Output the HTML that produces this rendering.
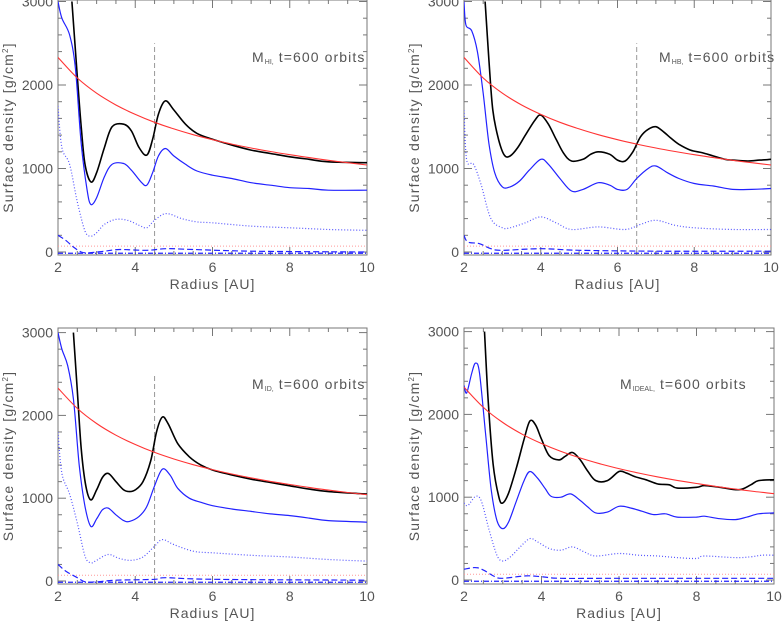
<!DOCTYPE html>
<html><head><meta charset="utf-8"><style>
html,body{margin:0;padding:0;background:#fff;}
svg text{font-family:"Liberation Sans",sans-serif;fill:#555;}
</style></head><body>
<svg id="c" width="782" height="621" viewBox="0 0 782 621" xmlns="http://www.w3.org/2000/svg"></svg>
<script>
// ---- data ----
const redR=[2,2.5,3,3.5,4,4.5,5,5.5,6,6.5,7,7.5,8,8.5,9,9.5,10];
const redV=[2330,2084,1902,1761,1648,1553,1474,1405,1345,1292,1245,1203,1165,1130,1098,1069,1042];
const p1Black=[[2.36,3000],[2.5,2100],[2.6,1500],[2.7,1050],[2.85,840],[3.0,950],[3.2,1250],[3.4,1500],[3.7,1530],[3.9,1450],[4.1,1250],[4.3,1160],[4.45,1350],[4.6,1650],[4.78,1810],[5.0,1700],[5.3,1530],[5.6,1420],[6,1350],[6.5,1280],[7,1220],[7.5,1180],[8,1140],[8.5,1110],[9,1080],[10,1070]];
const p1Blue=[[2,3000],[2.1,2800],[2.3,2600],[2.45,2200],[2.6,1300],[2.75,750],[2.85,570],[3.0,650],[3.2,900],[3.4,1050],[3.7,1060],[3.9,980],[4.15,840],[4.3,800],[4.45,950],[4.6,1150],[4.78,1240],[5,1150],[5.3,1050],[5.6,970],[6,920],[6.5,880],[7,830],[7.5,800],[8,770],[8.5,760],[9,740],[10,740]];
const p1Dot=[[2,1750],[2.1,1250],[2.3,1050],[2.5,600],[2.7,250],[2.85,190],[3.0,230],[3.2,330],[3.5,390],[3.8,380],[4.1,320],[4.3,290],[4.5,380],[4.8,460],[5.2,400],[5.6,360],[6,350],[7,310],[8,290],[9,270],[10,260]];
const p1Dash=[[2,200],[2.2,140],[2.4,60],[2.6,0],[2.8,-10],[3.2,10],[3.6,30],[4.3,20],[4.8,40],[5.5,30],[7,10],[10,0]];
const p2Black=[[2.55,3000],[2.65,2300],[2.75,1700],[2.9,1350],[3.05,1160],[3.2,1150],[3.4,1250],[3.6,1400],[3.85,1580],[4.0,1640],[4.2,1530],[4.4,1350],[4.6,1180],[4.8,1090],[5.1,1110],[5.3,1170],[5.5,1200],[5.8,1170],[6.0,1100],[6.2,1090],[6.4,1200],[6.6,1380],[6.8,1470],[7.0,1500],[7.2,1440],[7.4,1360],[7.6,1290],[7.9,1220],[8.2,1190],[8.5,1150],[8.8,1110],[9.0,1100],[9.4,1090],[9.7,1100],[10,1110]];
const p2Blue=[[2,3000],[2.05,2720],[2.2,2650],[2.35,2400],[2.5,1900],[2.65,1300],[2.8,950],[3.0,780],[3.2,780],[3.45,850],[3.7,980],[4.0,1110],[4.2,1050],[4.5,880],[4.8,730],[5.1,750],[5.5,830],[5.8,800],[6.0,750],[6.25,750],[6.5,880],[6.8,1000],[7.0,1030],[7.3,950],[7.6,880],[8,820],[8.5,790],[9,750],[9.5,750],[10,760]];
const p2Dot=[[2,1700],[2.07,1100],[2.25,1050],[2.45,800],[2.7,400],[3.0,290],[3.2,290],[3.6,350],[4.0,420],[4.4,350],[4.8,270],[5.5,300],[6.2,270],[6.6,330],[7.0,380],[7.5,320],[8,290],[9,270],[10,270]];
const p2Dash=[[2,200],[2.1,120],[2.4,100],[2.7,40],[3.0,20],[4,40],[5,20],[7,10],[10,10]];
const p3Black=[[2.4,3000],[2.5,2300],[2.6,1600],[2.72,1150],[2.85,980],[3.0,1100],[3.15,1250],[3.3,1300],[3.5,1200],[3.7,1100],[3.85,1080],[4.0,1100],[4.2,1200],[4.4,1450],[4.55,1800],[4.7,1980],[4.85,1900],[5.1,1660],[5.4,1500],[5.7,1400],[6.0,1340],[6.5,1280],[7,1230],[7.5,1190],[8,1150],[8.5,1110],[9,1080],[10,1050]];
const p3Blue=[[2,3000],[2.1,2800],[2.25,2600],[2.4,2200],[2.55,1400],[2.7,900],[2.85,660],[3.0,750],[3.15,860],[3.3,880],[3.5,800],[3.7,730],[3.85,720],[4.1,780],[4.3,900],[4.5,1150],[4.7,1350],[4.9,1280],[5.1,1120],[5.4,1000],[5.7,950],[6.0,910],[6.5,870],[7,840],[7.5,810],[8,790],[8.5,760],[9,730],[10,710]];
const p3Dot=[[2,1800],[2.1,1300],[2.3,1050],[2.5,700],[2.7,300],[2.85,220],[3.0,250],[3.3,320],[3.6,270],[3.9,250],[4.2,290],[4.5,420],[4.7,500],[5.0,440],[5.5,360],[6,340],[7,310],[8,290],[9,260],[10,240]];
const p3Dash=[[2,200],[2.2,120],[2.5,40],[2.7,-10],[3,-10],[3.5,10],[4.5,20],[4.8,40],[6,20],[10,10]];
const p4Black=[[2.53,3000],[2.62,2200],[2.75,1400],[2.9,1000],[3.0,930],[3.15,1050],[3.35,1350],[3.55,1700],[3.7,1920],[3.85,1870],[4.0,1700],[4.2,1500],[4.45,1450],[4.6,1490],[4.8,1540],[5.0,1450],[5.2,1310],[5.4,1200],[5.7,1200],[6.0,1310],[6.2,1290],[6.4,1250],[6.7,1210],[7,1160],[7.3,1150],[7.5,1110],[8.0,1120],[8.2,1140],[8.6,1120],[9.1,1090],[9.4,1150],[9.6,1200],[10,1210]];
const p4Blue=[[2,2350],[2.07,2260],[2.2,2500],[2.3,2620],[2.4,2500],[2.55,1800],[2.7,1100],[2.85,720],[3.0,620],[3.15,700],[3.35,950],[3.55,1200],[3.7,1310],[3.9,1230],[4.1,1100],[4.25,1010],[4.5,1000],[4.75,1040],[5.0,960],[5.2,880],[5.4,810],[5.7,820],[6.0,890],[6.3,870],[6.6,830],[6.9,790],[7.2,800],[7.5,760],[8,760],[8.2,770],[8.6,740],[9,730],[9.3,760],[9.6,800],[10,810]];
const p4Dot=[[2,930],[2.1,900],[2.3,1010],[2.45,950],[2.65,600],[2.85,300],[3.0,230],[3.2,280],[3.45,400],[3.7,500],[3.9,460],[4.2,380],[4.5,360],[4.8,400],[5.1,340],[5.4,290],[6,320],[6.5,300],[7,290],[7.5,270],[8,260],[8.2,290],[9,270],[9.4,280],[9.7,300],[10,300]];
const p4Dash=[[2,130],[2.3,150],[2.5,120],[2.8,40],[3.0,20],[3.6,50],[4,40],[4.5,20],[6,20],[10,20]];
const xTicks=[2,4,6,8,10];
const yTicks=[0,1000,2000,3000];
const floorLevel=70, dashDotLevel=-15;
const panels=[
 {id:'m-hi',sub:'HI',x0:58,x1:367,top:0,bot:255,y0:252,sc:0.0835,planet:4.5,lx:252,ly:62,data:[p1Black,p1Blue,p1Dot,p1Dash]},
 {id:'m-hb',sub:'HB',x0:464,x1:771,top:0,bot:255,y0:252,sc:0.0835,planet:6.5,lx:659,ly:62,data:[p2Black,p2Blue,p2Dot,p2Dash]},
 {id:'m-id',sub:'ID',x0:58,x1:367,top:328,bot:584,y0:581,sc:0.0828,planet:4.5,lx:252,ly:389,data:[p3Black,p3Blue,p3Dot,p3Dash]},
 {id:'m-ideal',sub:'IDEAL',x0:464,x1:774,top:328,bot:584,y0:580,sc:0.0828,planet:null,lx:620,ly:389,data:[p4Black,p4Blue,p4Dot,p4Dash]}
];
const NS='http://www.w3.org/2000/svg';
const svg=document.getElementById('c');
function mk(t,a,p){const e=document.createElementNS(NS,t);for(const k in a)e.setAttribute(k,a[k]);(p||svg).appendChild(e);return e;}
function smooth(pts){let d='M'+pts[0][0].toFixed(1)+','+pts[0][1].toFixed(1);
 for(let i=0;i<pts.length-1;i++){const p0=pts[Math.max(0,i-1)],p1=pts[i],p2=pts[i+1],p3=pts[Math.min(pts.length-1,i+2)];
  const c1=[p1[0]+(p2[0]-p0[0])/6,p1[1]+(p2[1]-p0[1])/6],c2=[p2[0]-(p3[0]-p1[0])/6,p2[1]-(p3[1]-p1[1])/6];
  d+='C'+c1.map(v=>v.toFixed(1))+' '+c2.map(v=>v.toFixed(1))+' '+p2[0].toFixed(1)+','+p2[1].toFixed(1);}
 return d;}
panels.forEach((P,pi)=>{
 const X=r=>P.x0+(r-2)*(P.x1-P.x0)/8, Y=v=>P.y0-v*P.sc;
 const g=mk('g',{});
 
 
 const cp=mk('clipPath',{id:'clip'+pi},g);mk('rect',{x:P.x0,y:P.top,width:P.x1-P.x0,height:P.bot-P.top},cp);
 for(let r=2;r<=10.001;r+=0.5){const maj=Math.abs(r-Math.round(r/2)*2)<1e-6;const L=maj?8:4;
  mk('line',{x1:X(r),x2:X(r),y1:P.bot,y2:P.bot-L,stroke:'#777','stroke-width':1},g);
  mk('line',{x1:X(r),x2:X(r),y1:P.top,y2:P.top+L,stroke:'#777','stroke-width':1},g);}
 for(let v=0;v<=3000;v+=200){const maj=v%1000===0;const L=maj?8:4;
  mk('line',{x1:P.x0,x2:P.x0+L,y1:Y(v),y2:Y(v),stroke:'#777'},g);
  mk('line',{x1:P.x1,x2:P.x1-L,y1:Y(v),y2:Y(v),stroke:'#777'},g);}
 mk('rect',{x:P.x0,y:P.top,width:P.x1-P.x0,height:P.bot-P.top,fill:'none',stroke:'#777','stroke-width':1},g);
 xTicks.forEach(t=>{const e=mk('text',{x:X(t),y:P.bot+17,'text-anchor':'middle','font-size':14},g);e.textContent=t;
  
  });
 yTicks.forEach(t=>{const e=mk('text',{x:P.x0-5,y:Y(t)+5,'text-anchor':'end','font-size':14},g);e.textContent=t;
  
  });
 const xt=mk('text',{x:(P.x0+P.x1)/2,y:P.bot+34,'text-anchor':'middle','font-size':14,'letter-spacing':'1'},g);xt.textContent='Radius [AU]';
 
 
 const yt=mk('text',{x:0,y:0,'text-anchor':'middle','font-size':14,'letter-spacing':'1.2',transform:`translate(${P.x0-45},${(P.top+P.bot)/2}) rotate(-90)`},g);
 yt.innerHTML='Surface density [g/cm<tspan font-size="8" dy="-5">2</tspan><tspan dy="5">]</tspan>';
 
 
 const lb=mk('text',{x:P.lx,y:P.ly,'font-size':14,fill:'#333','letter-spacing':'1.1'},g);
 lb.innerHTML='M<tspan font-size="7" dy="2" letter-spacing="0">'+P.sub+',</tspan><tspan dy="-2"> t=600 orbits</tspan>';
 
 
 const cg=mk('g',{'clip-path':`url(#clip${pi})`},g);
 const fl=mk('line',{x1:P.x0,x2:P.x1,y1:Y(floorLevel),y2:Y(floorLevel),stroke:'#f99','stroke-width':1,'stroke-dasharray':'1,2'},cg);
 
 
 const dd=mk('line',{x1:P.x0,x2:P.x1,y1:Y(dashDotLevel),y2:Y(dashDotLevel),stroke:'#22f','stroke-width':1.2,'stroke-dasharray':'5,2,1,2'},cg);
 
 
 if(P.planet!==null){const pl=mk('line',{x1:X(P.planet),x2:X(P.planet),y1:Y(0),y2:Y(2500),stroke:'#999','stroke-dasharray':'5,3'},cg);
  
  }
 const styles=[['#000',1.6,'','series-total'],['#22f',1.2,'','series-blue-solid'],['#55f',1.2,'1,2','series-blue-dotted'],['#22f',1.2,'6,3','series-blue-dashed']];
 P.data.forEach((ser,si)=>{const s=styles[si];
  const p=mk('path',{d:smooth(ser.map(q=>[X(q[0]),Y(q[1])])),fill:'none',stroke:s[0],'stroke-width':s[1],'stroke-dasharray':s[2]},cg);
  
  });
 const rp=mk('path',{d:smooth(redR.map((r,i)=>[X(r),Y(redV[i])])),fill:'none',stroke:'#f33','stroke-width':1.1},cg);
 
 
});
</script>
</body></html>
